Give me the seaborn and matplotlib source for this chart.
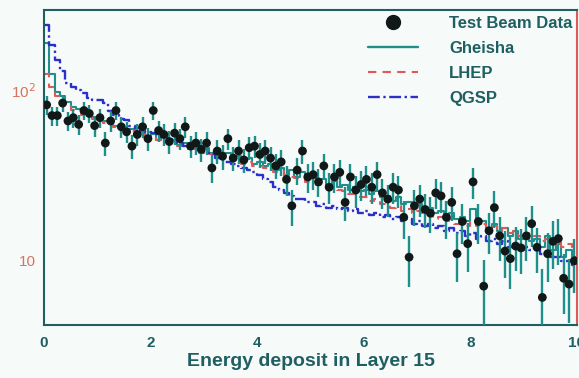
import numpy as np
import pandas as pd
import matplotlib
matplotlib.use('Agg')
import matplotlib.pyplot as plt
import seaborn as sns
from matplotlib.lines import Line2D
from matplotlib.ticker import MultipleLocator, LogLocator, NullFormatter

# Данные, 100 бинов от 0 до 10
bin_edges = np.linspace(0, 10, 101)
bin_centers = (bin_edges[:-1] + bin_edges[1:]) / 2

beam_data = [
    82, 71, 71, 84, 66, 69, 63, 76, 73, 62,
    69, 49, 66, 76, 61, 57, 47, 55, 61, 52,
    76, 58, 55, 50, 56, 52, 61, 47, 49, 45,
    49, 35, 44, 41, 52, 40, 44, 39, 46, 47,
    42, 44, 40, 36, 38, 30, 21, 34, 44, 31,
    32, 29, 36, 27, 31, 33, 22, 31, 26, 28,
    30, 27, 32, 25, 23, 27, 26, 18, 10.5, 21,
    23, 20, 19, 25, 24, 18, 22, 11, 17, 12.6,
    29, 17, 7.1, 15, 20.5, 14, 11.4, 10.3, 12.2, 11.9,
    14, 16.5, 12, 6.1, 11, 13, 13.5, 7.9, 7.3, 10]

beam_err = [
    10, 9, 9, 10, 8.5, 9, 8.5, 9.5, 9, 8.5,
    9, 8, 9, 9.5, 8.5, 8, 7.5, 8, 8.5, 8,
    9.5, 8, 8, 7.5, 8, 7.5, 8.5, 7, 7.5, 7,
    7.5, 6.5, 7, 7, 7.5, 6.5, 7, 6.5, 7, 7,
    7, 7, 6.5, 6, 6.5, 6, 5, 6, 7, 6,
    6, 5.5, 6, 5.5, 6, 6, 5, 6, 5.5, 5.5,
    6, 5.5, 6, 5, 5, 5.5, 5.5, 4.5, 3.5, 5,
    5, 4.5, 4.5, 5, 5, 4.5, 5, 3.5, 4.5, 4,
    6, 4.5, 3, 4, 5, 4, 3.5, 3.5, 3.5, 3.5,
    4, 4.5, 3.5, 2.8, 3.5, 4, 4, 3, 3, 3.5]

gheisha = [
    190, 125, 98, 92, 85, 80, 78, 75, 72, 70,
    69, 66, 65, 62, 62, 58, 59, 55, 57, 53,
    55, 51, 53, 50, 51, 48, 49, 46, 48, 44,
    46, 43, 45, 41, 43, 40, 41, 39, 40, 37,
    38, 36, 37, 34, 35, 32, 34, 31, 33, 30,
    31, 29, 30, 28, 29.5, 27, 28, 26, 27, 25.5,
    26, 24.5, 25.5, 23.5, 24, 22.5, 23.5, 21.5, 22, 21,
    21.5, 20, 20.5, 19, 19.5, 18, 19, 17.5, 18, 17,
    20, 16.5, 17, 15.5, 16.5, 15, 15.5, 14, 15, 13.5,
    14, 13, 13.5, 12, 14, 11.5, 12.5, 10.5, 11.5, 10.5]

lhep = [
    125, 104, 93, 86, 83, 77, 76, 72, 71, 68,
    68, 64, 64, 61, 60, 58, 58, 55, 55, 53,
    53, 51, 51, 49, 49, 47, 47, 45, 45, 43,
    44, 42, 42, 40, 41, 39, 39, 37, 38, 36,
    36, 35, 34.5, 33, 33.5, 32, 31, 30.5, 30.5, 29,
    29, 28, 28, 27, 26.5, 26, 25.5, 24.5, 24.5, 23.5,
    23.5, 22.5, 23, 21.5, 21.5, 20.5, 21, 19.5, 20, 19,
    19.5, 18.5, 18.5, 17.5, 18, 17, 17.5, 16.5, 16.5, 16,
    17, 16, 16.5, 15.5, 16, 15, 15.5, 14.5, 15, 14,
    14.5, 13.5, 14, 13, 13.5, 12.5, 13, 12, 12.5, 11.5]

qgsp = [
    240, 185, 150, 130, 110, 104, 100, 96, 90, 88,
    87, 84, 76, 72, 68, 67, 62, 60, 58, 57,
    56, 55, 53, 52, 50, 49, 47, 46, 45, 44,
    43, 42, 40, 39, 38, 37, 36, 35, 34, 33,
    32, 30, 29, 27, 26, 25, 24, 23, 23, 22,
    22, 21, 21.5, 20.5, 21, 20, 20.5, 19.5, 20, 19,
    19.5, 18.5, 19, 18, 18.5, 17.5, 18, 17, 17.5, 16.5,
    17, 16, 16.5, 15.5, 16, 15, 15.5, 14.5, 15, 14,
    14.5, 13.5, 14, 13, 13.5, 12.5, 13, 12, 12.5, 11.5,
    12, 11.5, 11.5, 11, 11, 10.5, 10.5, 10, 10, 9.5]

mc = pd.DataFrame({'x': bin_centers, 'Gheisha': gheisha, 'LHEP': lhep, 'QGSP': qgsp})

# Цвета
ink = '#1f5f62'
teal = '#1f8f8c'
red = '#e0585a'
blue = '#2a30c8'
bg = '#f6faf8'

sns.set_style('white')
plt.rcParams['font.family'] = ['Liberation Sans', 'DejaVu Sans']

fig = plt.figure(figsize=(5.79, 3.78), dpi=100, facecolor=bg)
ax = fig.add_axes([0.076, 0.14, 0.9205, 0.8335])
ax.set_facecolor(bg)

# Гистограммы моделирования
styles = {
    'Gheisha': dict(color=teal, linewidth=1.5, linestyle='-'),
    'LHEP': dict(color=red, linewidth=1.5, linestyle=(0, (4, 3))),
    'QGSP': dict(color=blue, linewidth=1.7, linestyle=(0, (5, 1.5, 1, 1.5))),
}
for name, st in styles.items():
    sns.histplot(data=mc, x='x', weights=name, bins=list(bin_edges), element='step',
                 fill=False, ax=ax, **st)

# Данные с пучка
ax.errorbar(bin_centers, beam_data, yerr=beam_err, xerr=0.05, fmt='none',
            ecolor=teal, elinewidth=1.7, capsize=0, zorder=4)
sns.scatterplot(x=bin_centers, y=beam_data, color='#101818', s=40,
                edgecolor='none', zorder=5, ax=ax)

ax.set_yscale('log')
ax.set_xlim(0, 10)
ax.set_ylim(4.2, 295)

ax.xaxis.set_major_locator(MultipleLocator(2))
ax.xaxis.set_minor_locator(MultipleLocator(0.5))
ax.yaxis.set_minor_locator(LogLocator(base=10, subs=np.arange(2, 10)))
ax.yaxis.set_minor_formatter(NullFormatter())
ax.set_yticks([10, 100], labels=['10', r'10$^{2}$'])

ax.tick_params(axis='both', which='major', direction='in', length=9, width=1.2,
               color=ink, top=False, right=False)
ax.tick_params(axis='both', which='minor', direction='in', length=5, width=1.0,
               color=ink, top=False, right=False)
ax.tick_params(axis='x', labelsize=11, labelcolor=ink, pad=8)
ax.tick_params(axis='y', labelsize=11, labelcolor='#d9725f', pad=6)
for lab in ax.get_xticklabels():
    lab.set_fontweight('bold')

for side in ['left', 'bottom', 'top']:
    ax.spines[side].set_color(ink)
    ax.spines[side].set_linewidth(1.5)
ax.spines['right'].set_color(red)
ax.spines['right'].set_linewidth(1.5)

ax.set_xlabel('Energy deposit in Layer 15', fontsize=14, fontweight='bold',
              color=ink, labelpad=2)
ax.set_ylabel('')

# Легенда
handles = [
    Line2D([], [], linestyle='none', marker='o', markersize=10, color='#101818'),
    Line2D([], [], color=teal, linewidth=1.7),
    Line2D([], [], color=red, linewidth=1.5, linestyle=(0, (4, 3))),
    Line2D([], [], color=blue, linewidth=1.7, linestyle=(0, (5, 1.5, 1, 1.5))),
]
labels = ['Test Beam Data', 'Gheisha', 'LHEP', 'QGSP']
leg = ax.legend(handles, labels, loc='upper right', bbox_to_anchor=(1.02, 1.03),
                frameon=False, handlelength=3.0, handletextpad=1.9,
                labelspacing=0.6, prop={'size': 12, 'weight': 'bold'})
for t in leg.get_texts():
    t.set_color(ink)

fig.savefig('out.png', dpi=100, facecolor=bg)
